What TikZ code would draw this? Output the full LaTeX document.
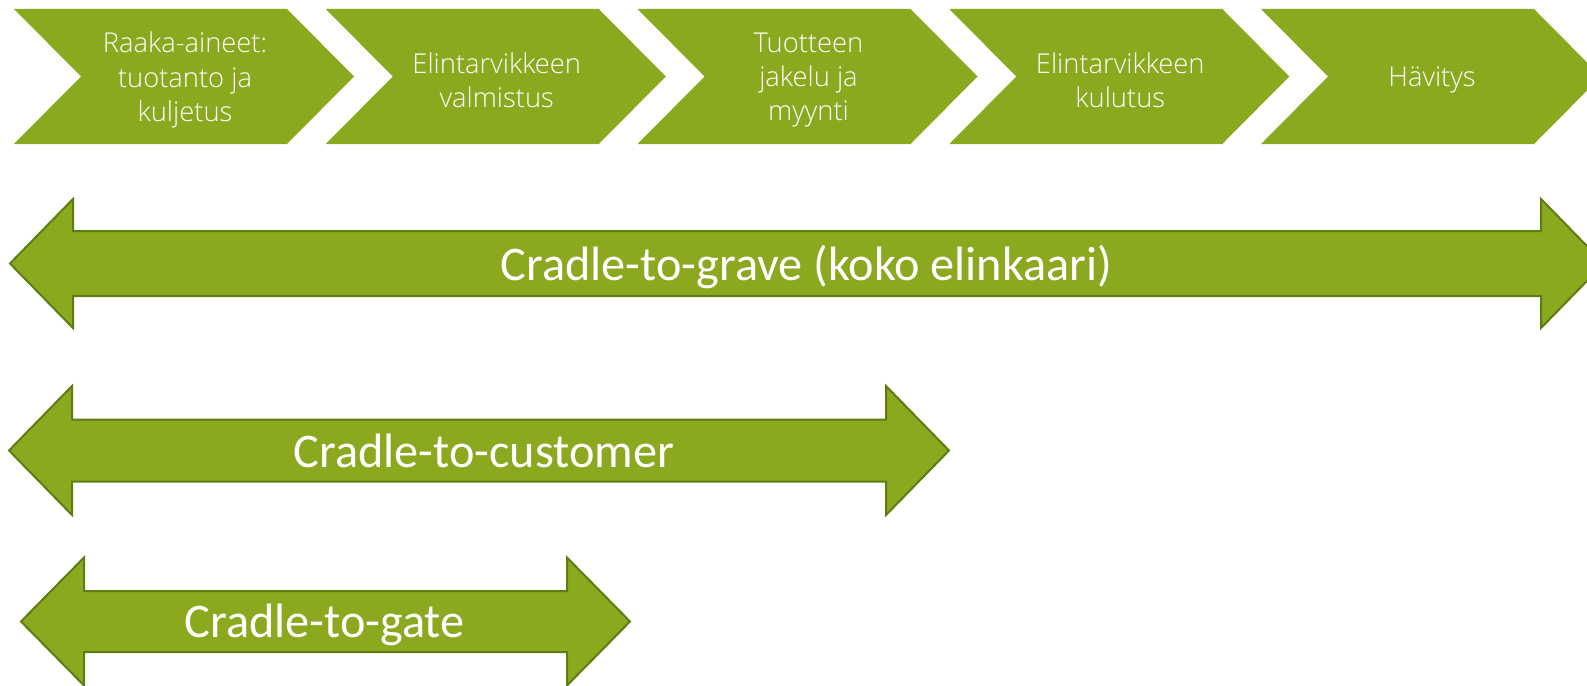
\documentclass[tikz,border=0pt]{standalone}
\usepackage{fontspec}
\setmainfont{Carlito}
\newfontfamily\chevfont{Open Sans Light}
\definecolor{leaf}{RGB}{138,169,31}
\definecolor{leafdark}{RGB}{95,124,18}
\tikzset{
  chev/.style={fill=leaf, draw=none},
  chevtext/.style={text=white, align=center, font=\chevfont\fontsize{20.5}{25.8}\selectfont, inner sep=0pt},
  dblarrow/.style={fill=leaf, draw=leafdark, line width=1.5pt, line join=miter},
  arrowtext/.style={text=white, font=\fontsize{36.2}{42}\selectfont, inner sep=0pt, anchor=base},
}
\begin{document}
\begin{tikzpicture}[x=0.75pt,y=-0.75pt]
\useasboundingbox (0,0) rectangle (1587,685);
\clip (0,0) rectangle (1587,685);
% chevrons
\foreach \i/\txt in {0/{Raaka-aineet:\\tuotanto ja\\kuljetus},1/{Elintarvikkeen\\valmistus},2/{Tuotteen\\jakelu ja\\myynti},3/{Elintarvikkeen\\kulutus},4/{H\"avitys}}{
  \pgfmathsetmacro{\xo}{14+311.75*\i}
  \fill[chev] (\xo,9) -- ++(273,0) -- ++(67,67.5) -- ++(-67,67.5) -- ++(-273,0) -- ++(67,-67.5) -- cycle;
  \node[chevtext] (c\i) at (\xo+171,80) {\txt};
}
% double arrows: tip left, head length 63
\newcommand{\dblarrowpath}[5]{% xl, xr, yc, shaft half, head half
  \draw[dblarrow] (#1,#3) -- (#1+63,#3-#5) -- (#1+63,#3-#4) -- (#2-63,#3-#4) -- (#2-63,#3-#5) -- (#2,#3)
    -- (#2-63,#3+#5) -- (#2-63,#3+#4) -- (#1+63,#3+#4) -- (#1+63,#3+#5) -- cycle;}
\dblarrowpath{10}{1604}{263.5}{32.5}{64.5}
\node[arrowtext] (grave) at (806.5,280) {Cradle-to-grave (koko elinkaari)};
\dblarrowpath{9}{949}{450.5}{31}{64.5}
\node[arrowtext] (customer) at (484,467) {Cradle-to-customer};
\dblarrowpath{21}{630}{621.5}{30.5}{64}
\node[arrowtext] (gate) at (324.5,637) {Cradle-to-gate};
\end{tikzpicture}
\end{document}
